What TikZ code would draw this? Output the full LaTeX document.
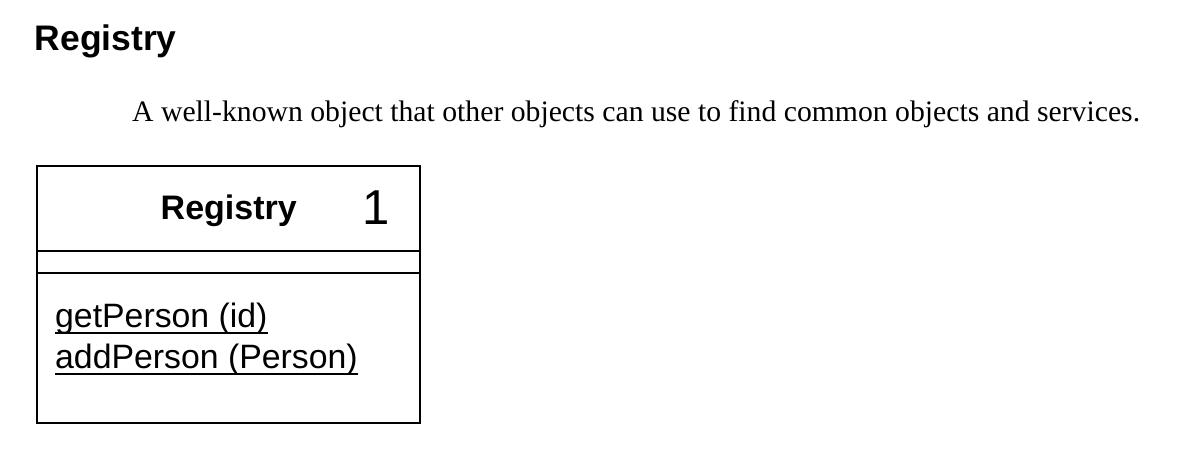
\documentclass[tikz,border=0pt]{standalone}
\usepackage{fontspec}
\setmainfont{Liberation Serif}
\setsansfont{Liberation Sans}
\usepackage{xcolor}

\begin{document}
\begin{tikzpicture}[x=1pt,y=-1pt, every node/.style={inner sep=0pt}]

    \useasboundingbox (0,0) rectangle (1186,457);

    %===========================
    % Heading
    %===========================

    \node (title) [anchor=base west, font=\sffamily\bfseries\fontsize{35.5}{42}\selectfont] at (34.5,51) {Registry};
    \node (intro) [anchor=base west, font=\fontsize{29.7}{35}\selectfont] at (132,122) {A well-known object that other objects can use to find common objects and services.};



    %===========================
    % Class box
    %===========================
    \draw node (cls) at (228.5,294.5) [draw, line width=2.5pt, minimum width=383pt, minimum height=257pt]{};
    \coordinate (sepA) at (0,251);
    \coordinate (sepB) at (0,273);
    \draw[line width=2.5pt] (cls.west |- sepA) -- (cls.east |- sepA);
    \draw[line width=2.5pt] (cls.west |- sepB) -- (cls.east |- sepB);

    % Name compartment
    \draw node (name) [anchor=base west, font=\sffamily\bfseries\fontsize{34}{40}\selectfont] at (160.5,220) {Registry};
    \draw node (mult) [anchor=base west, font=\sffamily\fontsize{49}{58}\selectfont] at (362,225) {1};

    % Operations
    \draw node (opA) [anchor=base west, font=\sffamily\fontsize{33.8}{40}\selectfont] at (55,327) {getPerson (id)};
    \draw node (opB) [anchor=base west, font=\sffamily\fontsize{33.8}{40}\selectfont] at (55,368) {addPerson (Person)};
    \draw[line width=1.3pt] ([yshift=-6pt]opA.base west) -- ([yshift=-6pt]opA.base east);
    \draw[line width=1.3pt] ([yshift=-6pt]opB.base west) -- ([yshift=-6pt]opB.base east);

\end{tikzpicture}
\end{document}
